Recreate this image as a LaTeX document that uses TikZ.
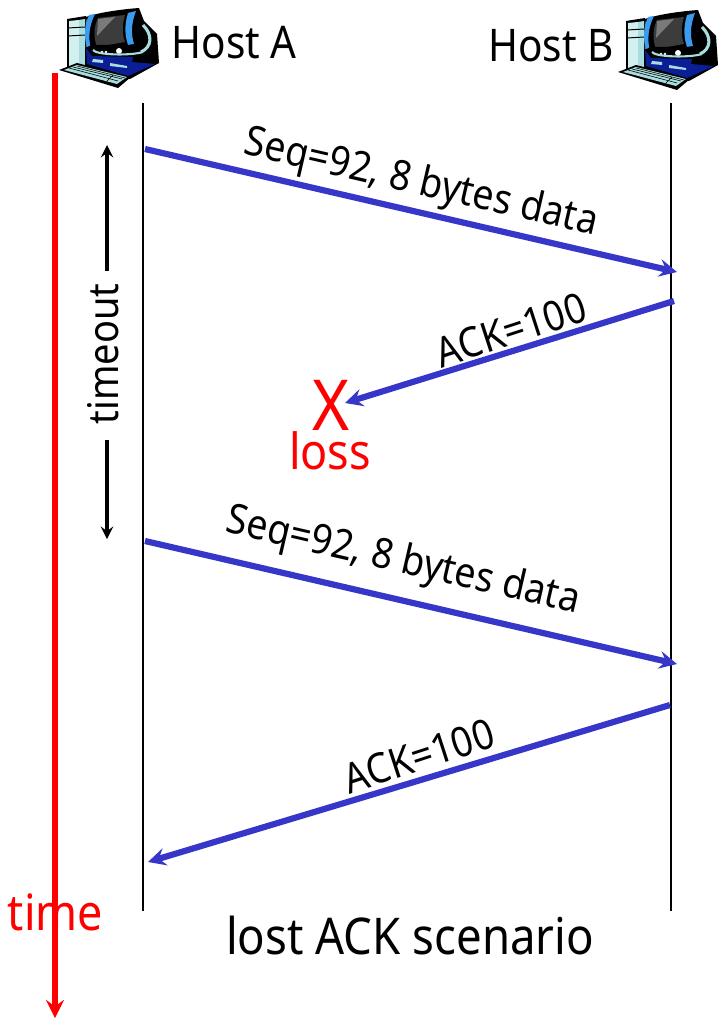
\documentclass[tikz,border=0pt]{standalone}
\usepackage{fontspec}
\setmainfont{Noto Sans}[FakeStretch=0.9]
\definecolor{segblue}{HTML}{3636C8}
\definecolor{pcteal}{HTML}{A9DCDC}
\definecolor{pcpale}{HTML}{D2F0F0}
\definecolor{pcblue}{HTML}{3A9BEF}
\definecolor{pcnavy}{HTML}{0A1E96}
\definecolor{pcscreen}{HTML}{3C3C3C}
\definecolor{pcglare}{HTML}{7A7A7A}
\tikzset{
  hostline/.style={draw=black, line width=1.4pt},
  segment/.style={->, >=stealth, draw=segblue, line width=4.4pt},
  timerline/.style={->, >=stealth, draw=black, line width=2.8pt},
  hostlabel/.style={font=\fontsize{32}{32}\selectfont, text=black},
  seglabel/.style={font=\fontsize{29.5}{30}\selectfont, text=black},
  redlabel/.style={font=\fontsize{35.5}{36}\selectfont, text=red},
  computer/.pic={
    % monitor
    \fill[black] (86,17) .. controls (100,12) and (125,9) .. (139,8) -- (144,21) -- (157,34) -- (159,63) -- (130,62) -- (90,56) -- cycle;
    \draw[pcteal, line width=2.2pt] (143,25) .. controls (153,35) and (152,47) .. (141,52);
    % tower
    \fill[black] (67,19) -- (86,16) -- (87,70) -- (67,70) -- cycle;
    \fill[pcpale] (69,21) -- (79,20) -- (79,68) -- (69,68) -- cycle;
    \fill[pcteal] (79,20) -- (85,19) -- (85,68) -- (79,68) -- cycle;
    \draw[black, line width=0.7pt] (68,28) -- (85,27) (68,36) -- (85,35);
    % screen and sides
    \fill[pcblue] (89,15) .. controls (84,26) and (84,38) .. (87,47) -- (91,49) .. controls (88,38) and (89,26) .. (95,14) -- cycle;
    \fill[pcblue] (128,13) .. controls (124,26) and (125,36) .. (128,45) -- (134,44) .. controls (131,34) and (131,24) .. (136,11) -- cycle;
    \fill[pcscreen] (98,18) -- (125,15) .. controls (122,25) and (122,34) .. (125,42) -- (97,47) .. controls (93,36) and (94,26) .. (98,18) -- cycle;
    \fill[pcglare] (98,19) -- (115,17) -- (97,36) -- cycle;
    % base
    \fill[black] (85,48) -- (92,45) -- (133,45) -- (136,52) -- (159,63) -- (130,79) -- (85,66) -- cycle;
    \fill[pcnavy] (86,48) -- (92,56) -- (133,57) -- (132,62) -- (155,64) -- (128,76) -- (87,64) -- cycle;
    \fill[black] (96,46) -- (131,46) -- (133,53) -- (99,52) -- cycle;
    \fill[white] (102,52) circle (1.3) (106,52) circle (1.3) (119,51) circle (3);
    \draw[pcteal, line width=1.5pt] (93,50) .. controls (96,55) and (130,56) .. (143,52);
    \fill[pcteal] (93,59) -- (103,60) -- (103,63) -- (92,62) -- cycle;
    \fill[pcteal] (110,63) -- (127,66) -- (127,68) -- (110,66) -- cycle;
    % keyboard
    \fill[black] (59,70) -- (77,63) -- (131,77) -- (118,88) -- cycle;
    \fill[pcteal] (64,70) -- (77,65) -- (127,77) -- (117,84) -- cycle;
    \draw[black, line width=0.4pt] (69,68) -- (118,81) (73,67) -- (122,79) (77,66) -- (125,78) (107,81) -- (113,75);
  }
}
\begin{document}
\begin{tikzpicture}[x=0.025cm, y=-0.025cm]
    \useasboundingbox (0,0) rectangle (717,1018);

    % hosts
    \pic at (0,0) {computer};
    \pic at (559,2) {computer};
    \node[hostlabel] (hostA) at (234,43) {Host A};
    \node[hostlabel] (hostB) at (551,46) {Host B};

    % time lines
    \coordinate (aTop) at (143,103);
    \coordinate (aBot) at (143,911);
    \coordinate (bTop) at (671,103);
    \coordinate (bBot) at (671,911);
    \draw[hostline] (aTop) -- (aBot);
    \draw[hostline] (bTop) -- (bBot);
    \coordinate (timeTop) at (55,73);
    \coordinate (timeBot) at (55,1018);
    \draw[->, >=stealth, draw=red, line width=4.5pt] (timeTop) -- (timeBot);
    \node[redlabel] (time) at (55.5,912) {time};

    % segments
    \coordinate (s1a) at (145,149);
    \coordinate (s1b) at (677,272);
    \coordinate (a1b) at (674,301);
    \coordinate (a1a) at (345,403);
    \coordinate (s2a) at (145,541);
    \coordinate (s2b) at (677,664);
    \coordinate (a2b) at (670,705);
    \coordinate (a2a) at (148,862);
    \draw[segment] (s1a) -- (s1b);
    \draw[segment] (a1b) -- (a1a);
    \draw[segment] (s2a) -- (s2b);
    \draw[segment] (a2b) -- (a2a);
    \node[seglabel, rotate=-13] (seq1) at (421,184) {Seq=92, 8 bytes data};
    \node[seglabel, rotate=18] (ack1) at (511,330) {ACK=100};
    \node[seglabel, rotate=-13] (seq2) at (403,562) {Seq=92, 8 bytes data};
    \node[seglabel, rotate=18] (ack2) at (419,756) {ACK=100};

    % loss
    \node[font=\fontsize{50}{50}\selectfont, text=red] (lossX) at (331,405) {X};
    \node[redlabel] (loss) at (330,451) {loss};

    % timeout
    \node[font=\fontsize{30}{30}\selectfont, rotate=90] (timeout) at (103,354) {timeout};
    \coordinate (toTop) at (107,145);
    \coordinate (toBot) at (107,539);
    \coordinate (toUp) at (107,271);
    \coordinate (toDown) at (107,440);
    \draw[timerline] (toUp) -- (toTop);
    \draw[timerline] (toDown) -- (toBot);

    \node[font=\fontsize{36}{36}\selectfont] (caption) at (410,936) {lost ACK scenario};
\end{tikzpicture}
\end{document}
